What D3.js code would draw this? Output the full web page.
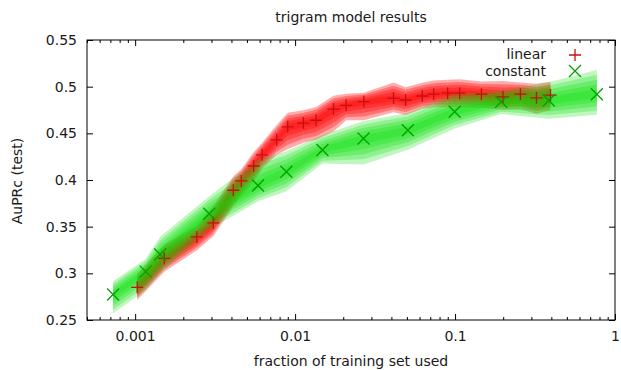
<!DOCTYPE html>
<html>
<head>
<meta charset="utf-8">
<script src="https://cdn.jsdelivr.net/npm/d3@7"></script>
<style>
  body { margin: 0; background: #fff; }
  svg text { font-family: "DejaVu Sans", sans-serif; font-size: 14px; fill: #1a1a1a; }
</style>
</head>
<body>
<svg id="chart" width="621" height="370"></svg>
<script>
// linear model (red +)
const linearX = [0.00103, 0.00152, 0.00243, 0.00308, 0.00411, 0.00461, 0.00551, 0.00622, 0.00767, 0.00899,
  0.01127, 0.01353, 0.01738, 0.02086, 0.02689, 0.04125, 0.04906, 0.0624, 0.07345, 0.08988,
  0.10686, 0.14616, 0.19953, 0.25637, 0.3229, 0.3952];
const linearY = [0.285, 0.316, 0.339, 0.354, 0.389, 0.399, 0.415, 0.427, 0.443, 0.457,
  0.461, 0.464, 0.476, 0.480, 0.484, 0.4875, 0.4857, 0.490, 0.492, 0.493,
  0.493, 0.492, 0.489, 0.492, 0.488, 0.491];
const linearHi = [0.0143, 0.015, 0.0125, 0.018, 0.015, 0.0125, 0.015, 0.013, 0.016, 0.015,
  0.0136, 0.0143, 0.0143, 0.0125, 0.0096, 0.017, 0.0136, 0.0143, 0.0146, 0.0143,
  0.015, 0.0136, 0.017, 0.0125, 0.015, 0.0143];
const linearLo = [0.0136, 0.0143, 0.0143, 0.0143, 0.017, 0.016, 0.017, 0.015, 0.016, 0.024,
  0.021, 0.021, 0.024, 0.016, 0.020, 0.015, 0.016, 0.0136, 0.014, 0.015,
  0.015, 0.0143, 0.0136, 0.016, 0.017, 0.016];

// constant model (green x)
const constantX = [0.000728, 0.001163, 0.001434, 0.002906, 0.005865, 0.008819, 0.014826,
  0.026771, 0.050697, 0.09943, 0.19437, 0.38561, 0.77];
const constantY = [0.2773, 0.3018, 0.3202, 0.3639, 0.3941, 0.4089, 0.4321,
  0.4445, 0.4533, 0.4732, 0.4838, 0.4852, 0.4919];
const constantHi = [0.0143, 0.0136, 0.019, 0.0186, 0.0275, 0.022, 0.016,
  0.0186, 0.0186, 0.0196, 0.0118, 0.0196, 0.026];
const constantLo = [0.020, 0.020, 0.020, 0.017, 0.017, 0.021, 0.0143,
  0.028, 0.021, 0.018, 0.0132, 0.0196, 0.022];

const yTicks = [0.25, 0.3, 0.35, 0.4, 0.45, 0.5, 0.55];
const xTicks = [0.001, 0.01, 0.1, 1];
const xTickLabels = ['0.001', '0.01', '0.1', '1'];
const layers = [1, 0.8, 0.6, 0.4, 0.2];

const svg = d3.select('#chart');
const mLeft = 87, mRight = 615, mTop = 40, mBottom = 320;

const x = d3.scaleLog().domain([0.0005, 1]).range([mLeft, mRight]);
const y = d3.scaleLinear().domain([0.25, 0.55]).range([mBottom, mTop]);

// minor ticks for log axis
const minor = [];
[0.0001, 0.001, 0.01, 0.1].forEach(d => {
  for (let k = 2; k <= 9; k++) {
    const v = d * k;
    if (v >= 0.0005 && v < 1) minor.push(v);
  }
});

// bands, one quad per segment
function band(xs, ys, hi, lo, color, op) {
  const g = svg.append('g');
  layers.forEach(f => {
    for (let i = 0; i < xs.length - 1; i++) {
      const pts = [
        [x(xs[i]), y(ys[i] + hi[i] * f)],
        [x(xs[i + 1]), y(ys[i + 1] + hi[i + 1] * f)],
        [x(xs[i + 1]), y(ys[i + 1] - lo[i + 1] * f)],
        [x(xs[i]), y(ys[i] - lo[i] * f)]
      ];
      g.append('polygon')
        .attr('points', pts.map(p => p.join(',')).join(' '))
        .attr('fill', color)
        .attr('fill-opacity', op);
    }
  });
}
band(linearX, linearY, linearHi, linearLo, '#ff0000', 0.33);
band(constantX, constantY, constantHi, constantLo, '#00e000', 0.25);

const redMark = '#c80f0f', greenMark = '#00a000';
const s = 6;

function plus(g, cx, cy, c) {
  g.append('path')
    .attr('d', `M${cx - s},${cy}H${cx + s}M${cx},${cy - s}V${cy + s}`)
    .attr('stroke', c).attr('stroke-width', 1.3).attr('fill', 'none');
}
function cross(g, cx, cy, c) {
  g.append('path')
    .attr('d', `M${cx - s},${cy - s}L${cx + s},${cy + s}M${cx - s},${cy + s}L${cx + s},${cy - s}`)
    .attr('stroke', c).attr('stroke-width', 1.3).attr('fill', 'none');
}

const marks = svg.append('g');
linearX.forEach((d, i) => plus(marks, x(d), y(linearY[i]), redMark));
constantX.forEach((d, i) => cross(marks, x(d), y(constantY[i]), greenMark));

// axes (ticks inward, mirrored)
function clean(g) { g.select('.domain').remove(); g.selectAll('line').attr('stroke', '#000'); }

svg.append('g').attr('transform', `translate(0,${mBottom})`)
  .call(d3.axisBottom(x).tickValues(xTicks).tickSize(-6).tickPadding(11)
    .tickFormat((d, i) => xTickLabels[i]))
  .call(clean);
svg.append('g').attr('transform', `translate(0,${mBottom})`)
  .call(d3.axisBottom(x).tickValues(minor).tickSize(-3).tickFormat(''))
  .call(clean);
svg.append('g').attr('transform', `translate(0,${mTop})`)
  .call(d3.axisTop(x).tickValues(xTicks).tickSize(-6).tickFormat(''))
  .call(clean);
svg.append('g').attr('transform', `translate(0,${mTop})`)
  .call(d3.axisTop(x).tickValues(minor).tickSize(-3).tickFormat(''))
  .call(clean);
svg.append('g').attr('transform', `translate(${mLeft},0)`)
  .call(d3.axisLeft(y).tickValues(yTicks).tickSize(-6).tickPadding(10).tickFormat(d3.format('')))
  .call(clean);
svg.append('g').attr('transform', `translate(${mRight},0)`)
  .call(d3.axisRight(y).tickValues(yTicks).tickSize(-6).tickFormat(''))
  .call(clean);

svg.selectAll('.tick text').attr('fill', '#1a1a1a');

svg.append('rect')
  .attr('x', mLeft).attr('y', mTop).attr('width', mRight - mLeft).attr('height', mBottom - mTop)
  .attr('fill', 'none').attr('stroke', '#000');

// titles
svg.append('text').attr('x', 351).attr('y', 22).attr('text-anchor', 'middle').text('trigram model results');
svg.append('text').attr('x', 351).attr('y', 366).attr('text-anchor', 'middle').text('fraction of training set used');
svg.append('text').attr('transform', 'translate(22,181) rotate(-90)').attr('text-anchor', 'middle').text('AuPRc (test)');

// legend
const legend = svg.append('g');
legend.append('text').attr('x', 546).attr('y', 59).attr('text-anchor', 'end').text('linear');
legend.append('text').attr('x', 546).attr('y', 76).attr('text-anchor', 'end').text('constant');
plus(legend, 575, 55, redMark);
cross(legend, 575, 71, greenMark);
</script>
</body>
</html>
